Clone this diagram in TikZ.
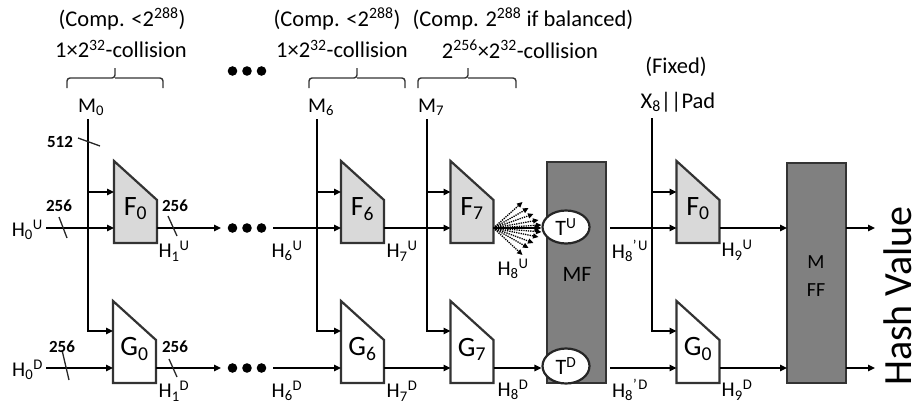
\documentclass[tikz,border=0pt]{standalone}
\usepackage{fontspec}
\setmainfont{Carlito}
\usetikzlibrary{arrows.meta,shapes.geometric,calc}
\tikzset{
  ln/.style={line width=1.5pt, draw=black},
  arr/.style={ln, -{Triangle[length=7pt,width=6.5pt]}},
  fanarr/.style={line width=1.3pt, densely dotted, -{Triangle[length=5.5pt,width=5pt]}},
  tick/.style={line width=1.3pt, draw=black!85},
  brc/.style={line width=1.4pt, draw=black!80, rounded corners=3pt},
  trapbox/.style={minimum width=43pt, minimum height=82pt, inner sep=0pt, outer sep=0pt},
  trapline/.style={line width=2.2pt, draw=black!80, line join=miter},
  bigbox/.style={draw=black!80, line width=2.2pt, fill=black!50, minimum width=59pt, inner sep=0pt, outer sep=0pt},
  tcirc/.style={ellipse, draw=black!85, line width=2.2pt, fill=white, minimum width=47pt, minimum height=33pt, inner sep=0pt, font=\fontsize{22}{24}\selectfont},
  toptxt/.style={font=\fontsize{22.5}{26}\selectfont, inner sep=0pt},
  hl/.style={font=\fontsize{21}{23}\selectfont, inner sep=0pt},
  num/.style={font=\bfseries\fontsize{17}{19}\selectfont, inner sep=0pt},
  flabel/.style={font=\fontsize{28}{30}\selectfont, inner sep=0pt},
  dotrow/.style={minimum width=52pt, minimum height=10pt, inner sep=0pt, outer sep=0pt},
}
\newcommand\mytrap[5]{%
  \node[trapbox] (#1) at (#2,#3) {};
  \filldraw[trapline, fill=#4] (#1.north west) -- ($(#1.north east)+(0,39)$) -- (#1.south east) -- (#1.south west) -- cycle;
  \node[flabel] (#1-l) at ($(#1.center)+(0,7)$) {#5};
}
\newcommand\mydots[1]{%
  \foreach \dx in {-14.5,0,14.5} \fill ($(#1.center)+(\dx,0)$) circle (4.8pt);
}
\newcommand\mybrace[3]{%
  \draw[brc] (#1,88) |- (#3,78) -- (#3,68);
  \draw[brc] (#2,88) |- (#3,78);
}
\newcommand\hprime[2]{H\textsubscript{#1}\textsuperscript{\textquoteright\kern1.5pt#2}}
\begin{document}
\begin{tikzpicture}[x=1pt,y=-1pt]
\useasboundingbox (0,0) rectangle (920,407);
% row coordinates
\coordinate (uM) at (0,192);
\coordinate (uR) at (0,228);
\coordinate (lM) at (0,331);
\coordinate (lR) at (0,368);

% top annotations
\node[toptxt] (c1) at (122,19) {(Comp. <2\textsuperscript{288})};
\node[toptxt] (k1) at (121,49) {1×2\textsuperscript{32}-collision};
\mybrace{67}{163}{115}
\node[toptxt] (c2) at (337,19) {(Comp. <2\textsuperscript{288})};
\node[toptxt] (k2) at (342,49) {1×2\textsuperscript{32}-collision};
\mybrace{309}{405}{357}
\node[toptxt] (c3) at (523,19) {(Comp. 2\textsuperscript{288} if balanced)};
\node[toptxt] (k3) at (520,49) {2\textsuperscript{256}×2\textsuperscript{32}-collision};
\mybrace{418}{516}{468}
\node[toptxt] (fx) at (676,67) {(Fixed)};
\node[dotrow] (dotsT) at (247,71) {};
\mydots{dotsT}

% message labels
\node[hl] (m0) at (91,107) {M\textsubscript{0}};
\node[hl] (m6) at (321,107) {M\textsubscript{6}};
\node[hl] (m7) at (431,107) {M\textsubscript{7}};
\node[toptxt] (x8) at (678,102) {X\textsubscript{8}||Pad};
\coordinate (m0top) at (88,119);
\coordinate (m6top) at (317,119);
\coordinate (m7top) at (427,119);
\coordinate (x8top) at (652,118);

% boxes
\mytrap{F0}{135.5}{202}{black!15}{F\textsubscript{0}}
\mytrap{G0}{134.5}{342}{white}{G\textsubscript{0}}
\mytrap{F6}{362.5}{202}{black!15}{F\textsubscript{6}}
\mytrap{G6}{362.5}{342}{white}{G\textsubscript{6}}
\mytrap{F7}{472}{202}{black!15}{F\textsubscript{7}}
\mytrap{G7}{472}{342}{white}{G\textsubscript{7}}
\mytrap{F0b}{698}{202}{black!15}{F\textsubscript{0}}
\mytrap{G0b}{698}{342}{white}{G\textsubscript{0}}
\node[bigbox, minimum height=221pt] (MF) at (576.5,272.5) {};
\node[font=\fontsize{22}{24}\selectfont, inner sep=0pt] (MFl) at (577,274) {MF};
\node[bigbox, minimum height=220pt] (MFF) at (816.5,273) {};
\node[font=\fontsize{20}{28}\selectfont, inner sep=0pt, align=center] (MFFl) at (816,276) {M\\FF};
\node[tcirc] (TU) at (566,227) {T\textsuperscript{U}};
\node[tcirc, minimum height=35pt] (TD) at (566,366) {T\textsuperscript{D}};

% message lines
\draw[arr] (m0top) |- (G0.west |- lM);
\draw[arr] (m0top |- uM) -- (F0.west |- uM);
\draw[arr] (m6top) |- (G6.west |- lM);
\draw[arr] (m6top |- uM) -- (F6.west |- uM);
\draw[arr] (m7top) |- (G7.west |- lM);
\draw[arr] (m7top |- uM) -- (F7.west |- uM);
\draw[arr] (x8top) |- (G0b.west |- lM);
\draw[arr] (x8top |- uM) -- (F0b.west |- uM);
\draw[tick] (78,138) -- (100,146);
\node[num] (n512) at (60,142) {512};

% upper chain
\node[hl, anchor=east] (h0u) at (43,230) {H\textsubscript{0}\textsuperscript{U}};
\draw[arr] ([xshift=3pt]h0u.east |- uR) -- (F0.west |- uR);
\draw[tick] (59,217) -- (67,238);
\node[num] (n1) at (59,206) {256};
\node[dotrow] (dotsU) at (247,228) {};
\mydots{dotsU}
\draw[arr] (F0.east |- uR) -- (dotsU.west);
\draw[tick] (168,216) -- (177,236);
\node[num] (n2) at (175,206) {256};
\draw[arr] (dotsU.east) -- (F6.west |- uR);
\draw[arr] (F6.east |- uR) -- (F7.west |- uR);
\coordinate (fanO) at (F7.east |- uR);
\draw[arr] (fanO) -- (TU.west |- uR);
\foreach \ex/\ey in {29/-26, 35/-20, 40/-14, 45/-8, 48/-3, 48/4, 45/9, 40/15, 35/20, 29/27}
  \draw[fanarr] (fanO) -- ++(\ex,\ey);
\draw[arr, shorten <=4pt] (MF.east |- uR) -- (F0b.west |- uR);
\draw[arr] (F0b.east |- uR) -- (MFF.west |- uR);
\coordinate (outU) at (875,228);
\draw[arr] (MFF.east |- uR) -- (outU);

% lower chain
\node[hl, anchor=east] (h0d) at (43,370) {H\textsubscript{0}\textsuperscript{D}};
\draw[arr] ([xshift=3pt]h0d.east |- lR) -- (G0.west |- lR);
\draw[tick] (62,350) -- (69,380);
\node[num] (n3) at (62,347) {256};
\node[dotrow] (dotsD) at (247,368) {};
\mydots{dotsD}
\draw[arr] (G0.east |- lR) -- (dotsD.west);
\draw[tick] (169,359) -- (177,377);
\node[num] (n4) at (175,347) {256};
\draw[arr] (dotsD.east) -- (G6.west |- lR);
\draw[arr] (G6.east |- lR) -- (G7.west |- lR);
\draw[arr] (G7.east |- lR) -- (TD.west |- lR);
\draw[arr, shorten <=4pt] (MF.east |- lR) -- (G0b.west |- lR);
\draw[arr] (G0b.east |- lR) -- (MFF.west |- lR);
\coordinate (outD) at (875,368);
\draw[arr] (MFF.east |- lR) -- (outD);

% H labels
\node[hl] (h1u) at (174,251) {H\textsubscript{1}\textsuperscript{U}};
\node[hl] (h6u) at (287,251) {H\textsubscript{6}\textsuperscript{U}};
\node[hl] (h7u) at (402,251) {H\textsubscript{7}\textsuperscript{U}};
\node[hl] (h8u) at (513,269) {H\textsubscript{8}\textsuperscript{U}};
\node[hl] (h8pu) at (630,251) {\hprime{8}{U}};
\node[hl] (h9u) at (737,250) {H\textsubscript{9}\textsuperscript{U}};
\node[hl] (h1d) at (174,391) {H\textsubscript{1}\textsuperscript{D}};
\node[hl] (h6d) at (287,391) {H\textsubscript{6}\textsuperscript{D}};
\node[hl] (h7d) at (402,391) {H\textsubscript{7}\textsuperscript{D}};
\node[hl] (h8d) at (513,390) {H\textsubscript{8}\textsuperscript{D}};
\node[hl] (h8pd) at (630,390) {\hprime{8}{D}};
\node[hl] (h9d) at (737,390) {H\textsubscript{9}\textsuperscript{D}};

\node[rotate=90, font=\fontsize{40}{40}\selectfont, inner sep=0pt] (hv) at (898,296) {Hash Value};
\end{tikzpicture}
\end{document}
